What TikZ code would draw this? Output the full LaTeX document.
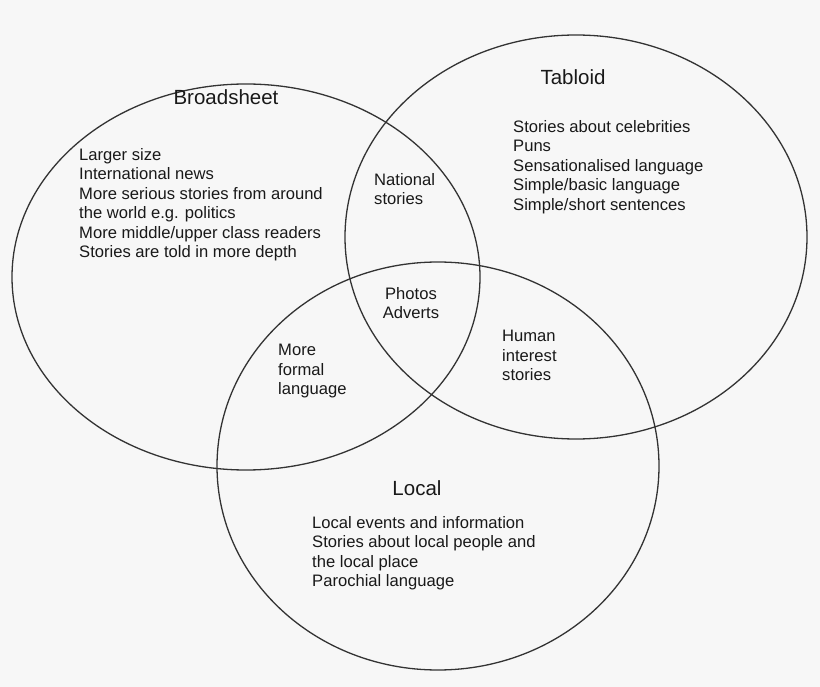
\documentclass[tikz,border=0pt]{standalone}
\usepackage{fontspec}
\setmainfont{Liberation Sans}
\begin{document}
\begin{tikzpicture}[x=1pt,y=-1pt,
  ring/.style={draw=black!80,line width=1.3pt},
  txt/.style={anchor=north west,inner sep=0pt,align=left,font=\fontsize{16.6}{19.5}\selectfont,text=black!90},
  ctxt/.style={anchor=north,inner sep=0pt,align=center,font=\fontsize{16.6}{19.5}\selectfont,text=black!90},
  head/.style={inner sep=0pt,font=\fontsize{20.5}{22}\selectfont,text=black!90}]
\fill[black!3] (0,0) rectangle (820,687);
\useasboundingbox (0,0) rectangle (820,687);
\draw[ring] (246,277) ellipse [x radius=234,y radius=193];
\draw[ring] (576,237) ellipse [x radius=231,y radius=202];
\draw[ring] (438,466) ellipse [x radius=221,y radius=204];
\node[head] (hb) at (226,97) {Broadsheet};
\node[head] (ht) at (573,77) {Tabloid};
\node[head] (hl) at (417,488) {Local};
\node[txt] (tb) at (79,148) {Larger size\\International news\\More serious stories from around\\the world e.g. politics\\More middle/upper class readers\\Stories are told in more depth};
\node[txt] (tt) at (513,120) {Stories about celebrities\\Puns\\Sensationalised language\\Simple/basic language\\Simple/short sentences};
\node[txt] (tl) at (312,516) {Local events and information\\Stories about local people and\\the local place\\Parochial language};
\node[txt] (tn) at (374,173) {National\\stories};
\node[ctxt] (tp) at (411,287) {Photos\\Adverts};
\node[txt] (tf) at (278,344) {More\\formal\\language};
\node[txt] (th) at (502,330) {Human\\interest\\stories};
\end{tikzpicture}
\end{document}
